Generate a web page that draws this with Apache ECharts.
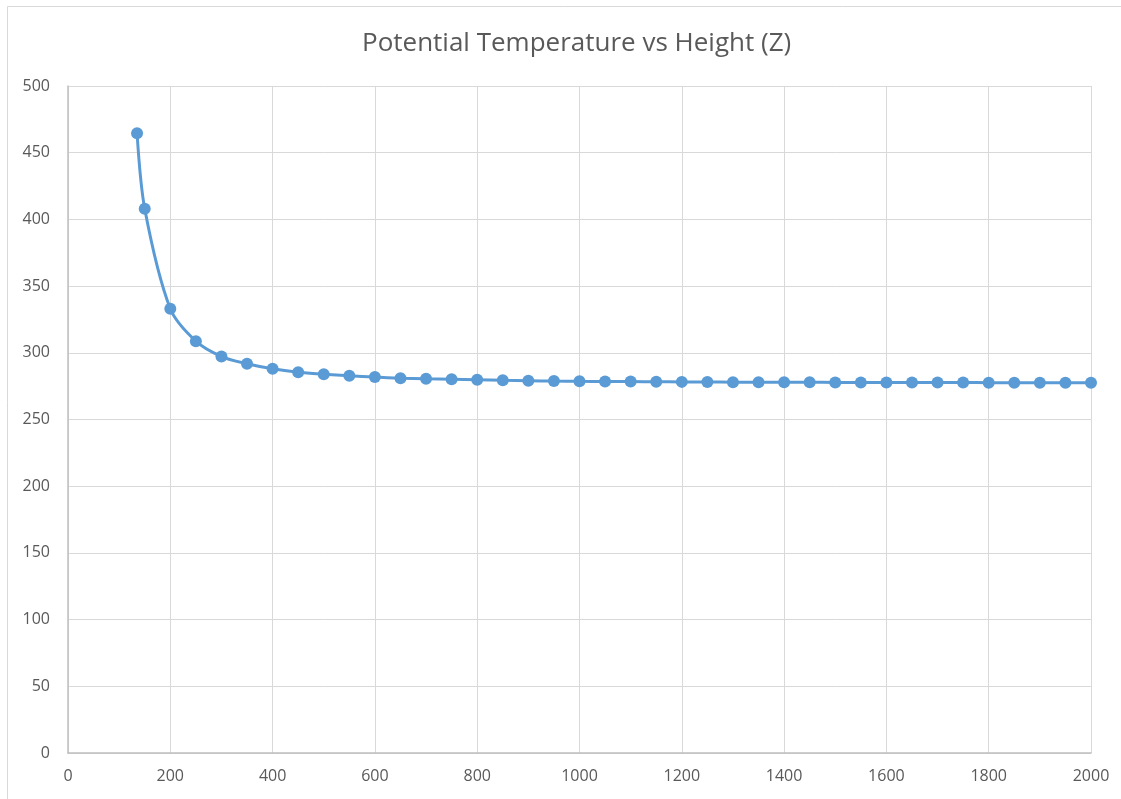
<!DOCTYPE html>
<html>
<head>
<meta charset="utf-8">
<script src="https://cdn.jsdelivr.net/npm/echarts@6/dist/echarts.min.js"></script>
<style>
  html, body { margin: 0; padding: 0; background: #ffffff; }
  #chart { width: 1121px; height: 799px; }
</style>
</head>
<body>
<div id="chart"></div>
<script>
// Height (Z) values and the potential temperature measured at each one
const heights = [135, 150, 200, 250, 300, 350, 400, 450, 500, 550, 600, 650, 700, 750, 800,
  850, 900, 950, 1000, 1050, 1100, 1150, 1200, 1250, 1300, 1350, 1400, 1450, 1500,
  1550, 1600, 1650, 1700, 1750, 1800, 1850, 1900, 1950, 2000];
const potentialTemp = [464.6, 408.0, 333.0, 308.7, 297.2, 291.8, 288.0, 285.5, 284.0, 282.8,
  281.8, 281.0, 280.5, 280.2, 279.8, 279.4, 279.1, 278.8, 278.6, 278.5, 278.4, 278.3,
  278.2, 278.1, 278.0, 278.0, 277.9, 277.9, 277.8, 277.8, 277.8, 277.7, 277.7, 277.7,
  277.6, 277.6, 277.6, 277.5, 277.5];

const xTicks = { min: 0, max: 2000, interval: 200 };
const yTicks = { min: 0, max: 500, interval: 50 };

const points = heights.map((h, i) => [h, potentialTemp[i]]);

const textColor = '#595959';
const fontFamily = '"Open Sans", "Liberation Sans", sans-serif';

const chart = echarts.init(document.getElementById('chart'), null, { renderer: 'canvas' });
chart.setOption({
  backgroundColor: '#ffffff',
  animation: false,
  title: {
    text: 'Potential Temperature vs Height (Z)',
    left: 357,
    top: 26,
    textStyle: { color: textColor, fontSize: 26, fontWeight: 'normal', fontFamily: fontFamily }
  },
  graphic: [
    {
      type: 'polyline',
      shape: { points: [[7.5, 799], [7.5, 6.5], [1121, 6.5]] },
      style: { stroke: '#d9d9d9', lineWidth: 1, fill: null },
      silent: true
    }
  ],
  grid: { left: 68, right: 30, top: 86, bottom: 46, containLabel: false },
  xAxis: {
    type: 'value',
    min: xTicks.min, max: xTicks.max, interval: xTicks.interval,
    axisLine: { show: true, lineStyle: { color: '#bfbfbf', width: 1.5 } },
    axisTick: { show: false },
    axisLabel: {
      color: textColor, fontSize: 16, fontFamily: fontFamily, margin: 15,
      formatter: (v) => String(v)
    },
    splitLine: { show: true, lineStyle: { color: '#d9d9d9', width: 1 } }
  },
  yAxis: {
    type: 'value',
    min: yTicks.min, max: yTicks.max, interval: yTicks.interval,
    axisLine: { show: true, lineStyle: { color: '#bfbfbf', width: 1.5 } },
    axisTick: { show: false },
    axisLabel: {
      color: textColor, fontSize: 16, fontFamily: fontFamily, margin: 18,
      formatter: (v) => String(v)
    },
    splitLine: { show: true, lineStyle: { color: '#d9d9d9', width: 1 } }
  },
  series: [
    {
      type: 'line',
      data: points,
      smooth: 0.3,
      symbol: 'circle',
      symbolSize: 12,
      showAllSymbol: true,
      lineStyle: { color: '#5b9bd5', width: 3 },
      itemStyle: { color: '#5b9bd5', borderWidth: 0 },
      z: 3
    }
  ]
});
</script>
</body>
</html>
